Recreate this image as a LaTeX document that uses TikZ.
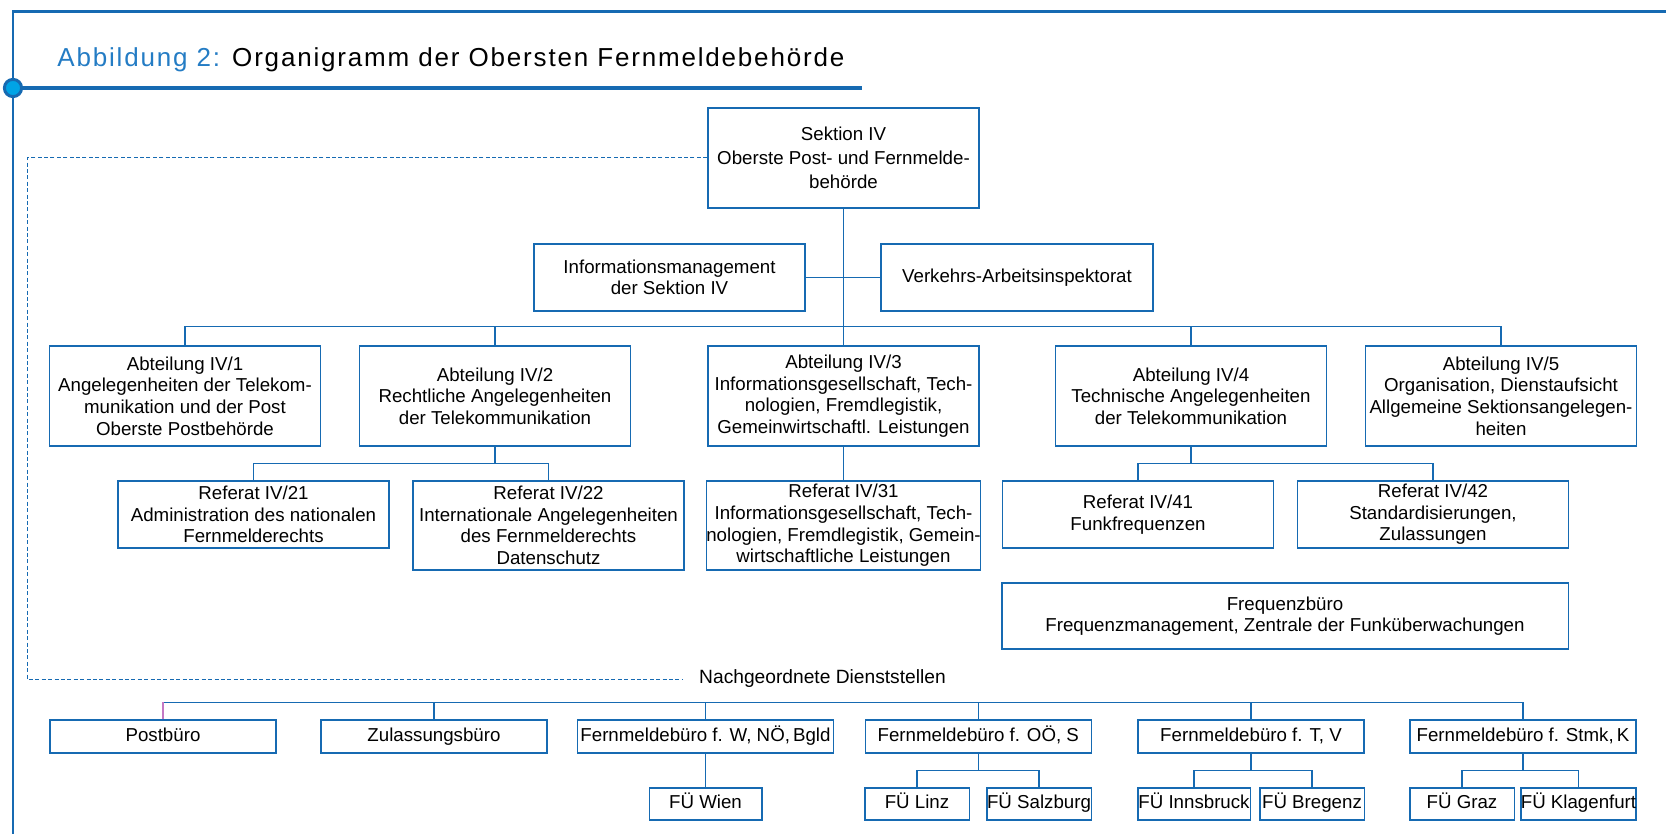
\documentclass[tikz,border=0pt]{standalone}
\usepackage{fontspec}
\setmainfont{Liberation Sans}
\newfontfamily\titlefont{Liberation Sans}[LetterSpace=7]
\definecolor{orgblue}{RGB}{22,106,178}
\definecolor{titleblue}{RGB}{36,124,196}
\definecolor{dotcyan}{RGB}{0,164,230}
\definecolor{droppurple}{RGB}{196,120,196}

\begin{document}
\begin{tikzpicture}[x=0.5pt,y=-0.5pt,
    box/.style={draw=orgblue,line width=0.75pt,align=center,inner sep=0pt,
      font=\fontsize{9.35}{10.8}\selectfont},
    abt/.style={box,minimum width=135.5pt,minimum height=50pt},
    ref/.style={box,minimum width=135.5pt,minimum height=33.5pt},
    stelle/.style={box,minimum width=113pt,minimum height=16.5pt,text height=6.9pt,text depth=2pt},
    fue/.style={box,minimum width=52.25pt,minimum height=16pt,text height=6.9pt,text depth=2pt},
    conn/.style={orgblue,line width=0.7pt},
    dashline/.style={orgblue,line width=0.5pt,dash pattern=on 2pt off 1.2pt}]
    \useasboundingbox (0,0) rectangle (1666,834);
    % frame and heading
    \draw[orgblue,line width=1.4pt] (1666,11.5) -- (13,11.5) -- (13,834);
    \draw[orgblue,line width=1.6pt] (13,88) -- (862,88);
    \filldraw[fill=dotcyan,draw=orgblue,line width=1.5pt] (13,88) circle(4.3pt);
    \node[anchor=west,inner sep=0pt,font=\titlefont\fontsize{13}{15}\selectfont] (title) at (57,60)
      {\textcolor{titleblue}{Abbildung 2:} Organigramm der Obersten Fernmeldebehörde};
    % Sektion
    \node[abt,font=\fontsize{9.35}{12}\selectfont] (sek) at (843.5,158) {Sektion IV\\Oberste Post- und Fernmelde-\\behörde};
    \node[ref] (info) at (669.5,277.5) {Informationsmanagement\\der Sektion IV};
    \node[ref,minimum width=136pt] (vai) at (1017,277.5) {Verkehrs-Arbeitsinspektorat};
    % Abteilungen
    \node[abt] (ab1) at (185,396) {Abteilung IV/1\\Angelegenheiten der Telekom-\\munikation und der Post\\Oberste Postbehörde};
    \node[abt] (ab2) at (495,396) {Abteilung IV/2\\Rechtliche Angelegenheiten\\der Telekommunikation};
    \node[abt] (ab3) at (843.5,396) {Abteilung IV/3\\Informationsgesellschaft, Tech-\\nologien, Fremdlegistik,\\Gemeinwirtschaftl. Leistungen};
    \node[abt] (ab4) at (1191,396) {Abteilung IV/4\\Technische Angelegenheiten\\der Telekommunikation};
    \node[abt] (ab5) at (1501,396) {Abteilung IV/5\\Organisation, Dienstaufsicht\\Allgemeine Sektionsangelegen-\\heiten};
    % Referate
    \node[ref] (r21) at (253.5,514.5) {Referat IV/21\\Administration des nationalen\\Fernmelderechts};
    \node[ref,minimum height=44.5pt] (r22) at (548.5,525.5) {Referat IV/22\\Internationale Angelegenheiten\\des Fernmelderechts\\Datenschutz};
    \node[ref,minimum height=44.5pt] (r31) at (843.5,525.5) {Referat IV/31\\Informationsgesellschaft, Tech-\\nologien, Fremdlegistik, Gemein-\\wirtschaftliche Leistungen};
    \node[ref] (r41) at (1138,514.5) {Referat IV/41\\Funkfrequenzen};
    \node[ref] (r42) at (1433,514.5) {Referat IV/42\\Standardisierungen,\\Zulassungen};
    \node[box,minimum width=283.25pt,minimum height=33pt] (fqb) at (1285,616) {Frequenzbüro\\Frequenzmanagement, Zentrale der Funküberwachungen};
    % Nachgeordnete Dienststellen
    \node[inner xsep=8.5pt,inner ysep=0pt,font=\fontsize{9.6}{11}\selectfont] (nach) at (822.5,679) {Nachgeordnete Dienststellen};
    \node[stelle] (post) at (163,736.5) {Postbüro};
    \node[stelle] (zul) at (434,736.5) {Zulassungsbüro};
    \node[stelle,minimum width=128pt] (fbw) at (705.5,736.5) {Fernmeldebüro f. W, NÖ,\,Bgld};
    \node[stelle] (fbo) at (978.3,736.5) {Fernmeldebüro f. OÖ, S};
    \node[stelle] (fbt) at (1251,736.5) {Fernmeldebüro f. T, V};
    \node[stelle] (fbs) at (1523,736.5) {Fernmeldebüro f. Stmk,\,K};
    \node[fue,minimum width=56.25pt] (wien) at (705.5,804) {FÜ Wien};
    \node[fue] (linz) at (917,804) {FÜ Linz};
    \node[fue] (salz) at (1039,804) {FÜ Salzburg};
    \node[fue,minimum width=56.25pt] (inns) at (1194,804) {FÜ Innsbruck};
    \node[fue] (breg) at (1312,804) {FÜ Bregenz};
    \node[fue] (graz) at (1462,804) {FÜ Graz};
    \node[fue,minimum width=57.5pt] (klag) at (1578.5,804) {FÜ Klagenfurt};
    % connectors
    \draw[conn] (sek.south) -- (ab3.north);
    \draw[conn] (info.east) -- (vai.west);
    \draw[conn] (ab1.north) -- ++(0,-19) -| (ab5.north);
    \foreach \n in {ab2,ab4}
      \draw[conn] (\n.north) -- ++(0,-19);
    \foreach \p/\a/\b in {ab2/r21/r22,ab4/r41/r42}
      \draw[conn] (\p.south) -- ++(0,17) -| (\a.north) (\p.south) ++(0,17) -| (\b.north);
    \draw[conn] (ab3.south) -- (r31.north);
    \coordinate (dcorner) at (27,679);
    \draw[dashline] (sek.west) -| (dcorner) -- (nach.west);
    \draw[conn] (post.north) ++(0,-17) -| (fbs.north);
    \draw[droppurple,line width=0.7pt] (post.north) -- ++(0,-17);
    \foreach \n in {zul,fbw,fbo,fbt}
      \draw[conn] (\n.north) -- ++(0,-17);
    \draw[conn] (fbw.south) -- (wien.north);
    \foreach \p/\a/\b in {fbo/linz/salz,fbt/inns/breg,fbs/graz/klag}
      \draw[conn] (\p.south) -- ++(0,17) -| (\a.north) (\p.south) ++(0,17) -| (\b.north);
  \end{tikzpicture}
\end{document}
